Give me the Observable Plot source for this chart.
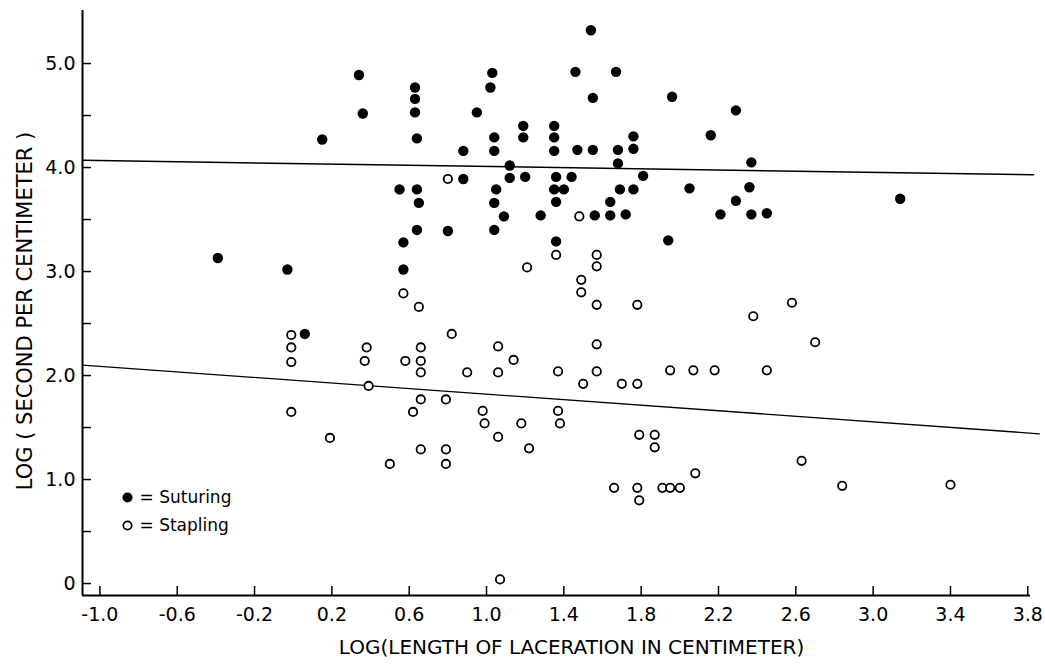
<!DOCTYPE html>
<html><head><meta charset="utf-8">
<script src="https://cdn.jsdelivr.net/npm/d3@7"></script>
<script src="https://cdn.jsdelivr.net/npm/@observablehq/plot@0.6"></script>
<style>html,body{margin:0;padding:0;background:#fff}</style>
</head><body><div id="chart"></div>
<script>
// Suturing (filled dots)
const sutX = [0.15,-0.39,-0.03,0.06,1.54,0.34,0.36,0.63,0.63,0.63,0.64,1.03,1.02,0.95,1.46,1.67,1.55,1.96,1.19,1.19,1.35,1.35,1.35,1.04,1.04,0.88,1.47,1.55,1.68,1.76,1.76,1.12,1.68,1.12,1.20,1.36,1.44,1.81,0.88,0.55,0.64,0.65,0.64,0.80,1.05,1.04,1.04,1.09,1.28,1.35,1.40,1.36,1.36,1.56,1.64,1.64,1.72,1.69,1.76,2.05,1.94,0.57,0.57,2.29,2.16,2.37,2.36,2.29,2.21,2.37,2.45,3.14];
const sutY = [4.27,3.13,3.02,2.40,5.32,4.89,4.52,4.77,4.66,4.53,4.28,4.91,4.77,4.53,4.92,4.92,4.67,4.68,4.40,4.29,4.40,4.29,4.16,4.29,4.16,4.16,4.17,4.17,4.17,4.30,4.18,4.02,4.04,3.90,3.91,3.91,3.91,3.92,3.89,3.79,3.79,3.66,3.40,3.39,3.79,3.66,3.40,3.53,3.54,3.79,3.79,3.67,3.29,3.54,3.67,3.54,3.55,3.79,3.79,3.80,3.30,3.28,3.02,4.55,4.31,4.05,3.81,3.68,3.55,3.55,3.56,3.70];
// Stapling (open circles)
const stapX = [0.80,1.48,1.36,1.57,1.57,1.21,1.49,1.49,0.57,0.65,1.57,1.78,0.82,2.58,2.38,-0.01,-0.01,-0.01,-0.01,0.19,0.38,0.37,0.39,0.58,0.66,0.66,0.66,0.66,0.62,0.79,0.66,0.79,0.79,0.50,0.90,1.06,1.06,1.14,0.98,0.99,1.06,1.18,1.22,1.37,1.37,1.38,1.50,1.57,1.57,1.70,1.78,1.95,2.07,2.18,2.45,2.70,1.79,1.87,1.87,1.66,1.78,1.79,1.91,1.95,2.00,2.08,2.63,2.84,3.40,1.07];
const stapY = [3.89,3.53,3.16,3.16,3.05,3.04,2.92,2.80,2.79,2.66,2.68,2.68,2.40,2.70,2.57,2.39,2.27,2.13,1.65,1.40,2.27,2.14,1.90,2.14,2.27,2.14,2.03,1.77,1.65,1.77,1.29,1.29,1.15,1.15,2.03,2.28,2.03,2.15,1.66,1.54,1.41,1.54,1.30,2.04,1.66,1.54,1.92,2.30,2.04,1.92,1.92,2.05,2.05,2.05,2.05,2.32,1.43,1.43,1.31,0.92,0.92,0.80,0.92,0.92,0.92,1.06,1.18,0.94,0.95,0.04];
// Fitted lines (end points)
const fitSutX = [-1.09, 3.83];
const fitSutY = [4.07, 3.93];
const fitStapX = [-1.09, 3.86];
const fitStapY = [2.10, 1.44];
// Axes
const xTicks = [-1.0,-0.6,-0.2,0.2,0.6,1.0,1.4,1.8,2.2,2.6,3.0,3.4,3.8];
const xTickLabels = ["-1.0","-0.6","-0.2","0.2","0.6","1.0","1.4","1.8","2.2","2.6","3.0","3.4","3.8"];
const yTicks = [0,0.5,1,1.5,2,2.5,3,3.5,4,4.5,5];
const yTickLabels = ["0","","1.0","","2.0","","3.0","","4.0","","5.0"];
const xTitle = "LOG(LENGTH OF LACERATION IN CENTIMETER)";
const yTitle = "LOG ( SECOND PER CENTIMETER )";
const legendLabels = ["= Suturing", "= Stapling"];

const xMin = -1.09, xMax = 3.814, yMin = -0.115, yMax = 5.51;
const sut = sutX.map((x, i) => ({x, y: sutY[i]}));
const stap = stapX.map((x, i) => ({x, y: stapY[i]}));
const fitSut = fitSutX.map((x, i) => ({x, y: fitSutY[i]}));
const fitStap = fitStapX.map((x, i) => ({x, y: fitStapY[i]}));
const xLabelData = xTicks.map((t, i) => ({t, label: xTickLabels[i]}));
const yLabelData = yTicks.map((t, i) => ({t, label: yTickLabels[i]})).filter(d => d.label !== "");
const WIDE = "'DejaVu Sans',sans-serif";

const chart = Plot.plot({
  width: 1045, height: 666,
  marginLeft: 82, marginRight: 15, marginTop: 10, marginBottom: 71,
  x: {domain: [xMin, xMax]},
  y: {domain: [yMin, yMax]},
  style: {fontFamily: WIDE, fontSize: "19px", color: "#000", background: "#fff"},
  marks: [
    Plot.ruleX([xMin], {y1: yMin, y2: yMax, stroke: "#000", strokeWidth: 2}),
    Plot.ruleY([yMin], {x1: xMin, x2: xMax, stroke: "#000", strokeWidth: 2}),
    Plot.axisX({ticks: xTicks, tickFormat: () => "", tickSize: -9, label: null, strokeWidth: 1.5}),
    Plot.axisY({ticks: yTicks, tickFormat: () => "", tickSize: -9, label: null, strokeWidth: 1.5}),
    Plot.text(xLabelData, {x: "t", text: "label", frameAnchor: "bottom", lineAnchor: "middle", dy: 19, fontSize: 19, fontFamily: WIDE, fill: "#000"}),
    Plot.text(yLabelData, {y: "t", text: "label", frameAnchor: "left", textAnchor: "end", lineAnchor: "middle", dx: -7, fontSize: 19, fontFamily: WIDE, fill: "#000"}),
    Plot.line(fitSut, {x: "x", y: "y", stroke: "#000", strokeWidth: 1.5}),
    Plot.line(fitStap, {x: "x", y: "y", stroke: "#000", strokeWidth: 1.3}),
    Plot.dot(sut, {x: "x", y: "y", r: 5.2, fill: "#000", stroke: null}),
    Plot.dot(stap, {x: "x", y: "y", r: 4.2, fill: "#fff", stroke: "#000", strokeWidth: 1.8}),
    Plot.text([xTitle], {text: d => d, frameAnchor: "bottom", lineAnchor: "middle", dx: 15, dy: 52, fontSize: 20, fontFamily: WIDE, fill: "#000"}),
    Plot.text([yTitle], {text: d => d, frameAnchor: "left", textAnchor: "middle", lineAnchor: "middle", dx: -57, dy: 8, rotate: -90, fontSize: 21, fontFamily: WIDE, fill: "#000"}),
    Plot.dot([legendLabels[0]], {frameAnchor: "bottom-left", dx: 45, dy: -98, r: 5, fill: "#000", stroke: null}),
    Plot.dot([legendLabels[1]], {frameAnchor: "bottom-left", dx: 45, dy: -70, r: 4.2, fill: "#fff", stroke: "#000", strokeWidth: 1.8}),
    Plot.text([legendLabels[0]], {text: d => d, frameAnchor: "bottom-left", textAnchor: "start", lineAnchor: "middle", dx: 57, dy: -98, fontSize: 17, fontFamily: WIDE, fill: "#000"}),
    Plot.text([legendLabels[1]], {text: d => d, frameAnchor: "bottom-left", textAnchor: "start", lineAnchor: "middle", dx: 57, dy: -70, fontSize: 17, fontFamily: WIDE, fill: "#000"})
  ]
});
document.getElementById("chart").appendChild(chart);
</script>
</body></html>
